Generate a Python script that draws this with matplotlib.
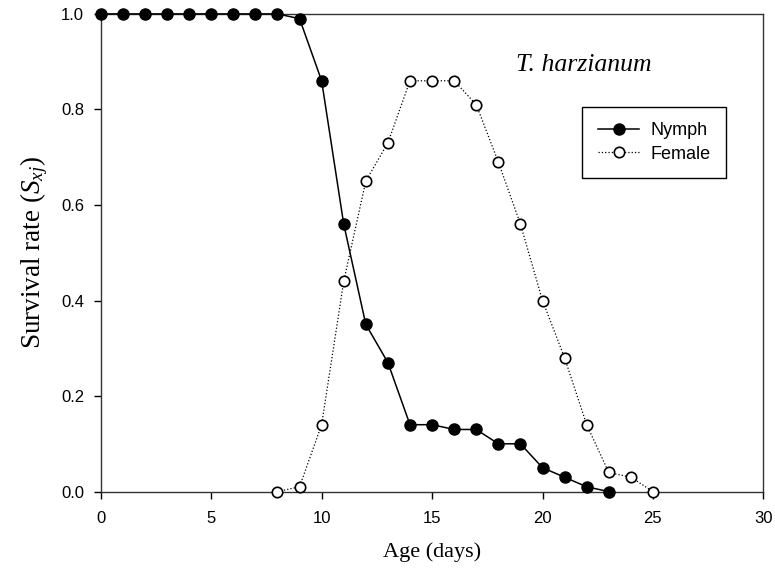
import numpy as np
import matplotlib
matplotlib.use("Agg")
import matplotlib.pyplot as plt

# === DATI ===
age_nymph = list(range(0, 24))
nymph = [1.0, 1.0, 1.0, 1.0, 1.0, 1.0, 1.0, 1.0, 1.0, 0.99,
         0.86, 0.56, 0.35, 0.27, 0.14, 0.14, 0.13, 0.13, 0.10, 0.10,
         0.05, 0.03, 0.01, 0.0]

age_female = list(range(8, 26))
female = [0.0, 0.01, 0.14, 0.44, 0.65, 0.73, 0.86, 0.86, 0.86, 0.81,
          0.69, 0.56, 0.40, 0.28, 0.14, 0.04, 0.03, 0.0]

x_ticks = [0, 5, 10, 15, 20, 25, 30]
y_ticks = [0.0, 0.2, 0.4, 0.6, 0.8, 1.0]

sans = ['Liberation Sans', 'DejaVu Sans']
serif = ['Liberation Serif', 'DejaVu Serif']

# mathtext in Times-like per l'etichetta Y
plt.rcParams['mathtext.fontset'] = 'custom'
plt.rcParams['mathtext.it'] = 'Liberation Serif:italic'
plt.rcParams['mathtext.rm'] = 'Liberation Serif'

# === GRAFICO ===
fig = plt.figure(figsize=(7.75, 5.79), dpi=100)
ax = fig.add_axes([0.130, 0.151, 0.855, 0.825])

ax.plot(age_nymph, nymph, color='black', lw=1.1, marker='o', ms=8,
        mfc='black', mec='black', label='Nymph', clip_on=False, zorder=3)
ax.plot(age_female, female, color='black', lw=0.9, ls=':', marker='o', ms=7.5,
        mfc='white', mec='black', mew=1.2, label='Female', clip_on=False, zorder=3)

ax.set_xlim(0, 30)
ax.set_ylim(0, 1.0)
ax.set_xticks(x_ticks)
ax.set_yticks(y_ticks)
ax.set_xticklabels([str(t) for t in x_ticks], fontfamily=sans, fontsize=12)
ax.set_yticklabels([f"{t:.1f}" for t in y_ticks], fontfamily=sans, fontsize=12)
ax.tick_params(direction='out', length=5, width=1, top=False, right=False)
ax.tick_params(axis='x', pad=9)
ax.tick_params(axis='y', pad=7)
for s in ax.spines.values():
    s.set_linewidth(1.0)
    s.set_color('#333333')

ax.set_xlabel('Age (days)', fontfamily=serif, fontsize=16, labelpad=12)
ax.set_ylabel(r'Survival rate ($\mathit{S}_{\mathit{xj}}$)', fontfamily=serif, fontsize=19.5, labelpad=8)

ax.text(0.626, 0.893, 'T. harzianum', transform=ax.transAxes, fontfamily=serif,
        fontstyle='italic', fontsize=18.5, ha='left', va='center')

leg = ax.legend(loc='upper left', bbox_to_anchor=(0.727, 0.805), prop={'family': sans, 'size': 13},
                frameon=True, fancybox=False, edgecolor='black', framealpha=1,
                handlelength=2.3, borderpad=0.85, labelspacing=0.35, handletextpad=0.6,
                borderaxespad=0)
leg.get_frame().set_linewidth(1.0)

fig.savefig('out.png', dpi=100)
